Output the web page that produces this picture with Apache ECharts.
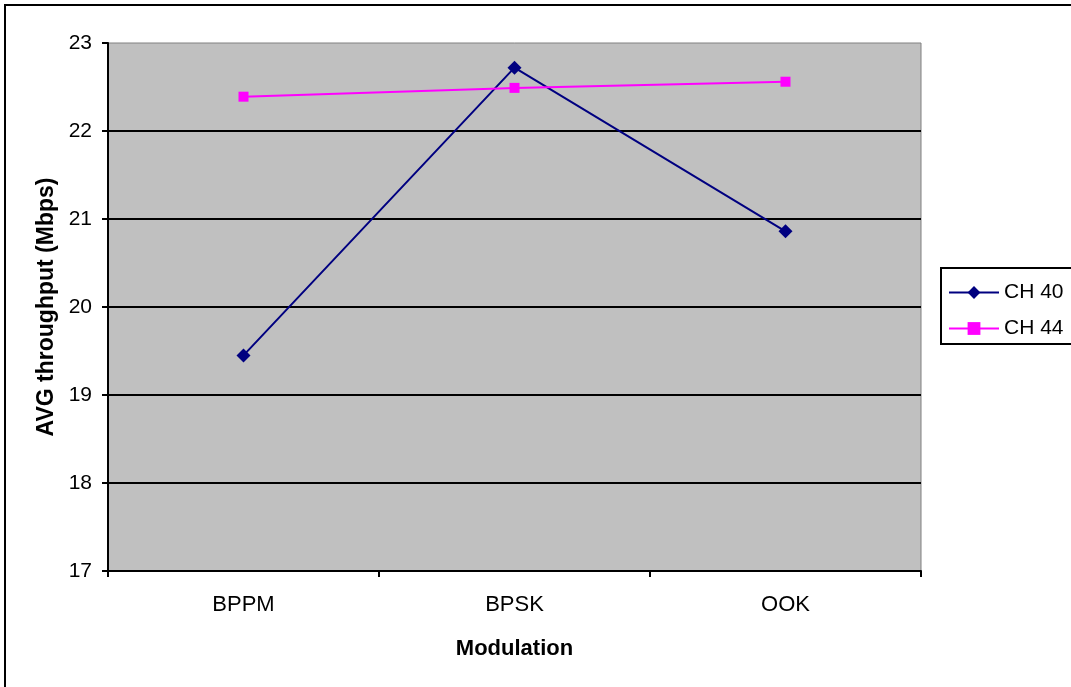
<!DOCTYPE html>
<html><head><meta charset="utf-8">
<script src="https://cdn.jsdelivr.net/npm/echarts@6/dist/echarts.min.js"></script>
<style>html,body{margin:0;padding:0;background:#fff}#c{width:1071px;height:687px}</style>
</head><body><div id="c"></div>
<script>
const categories = ['BPPM', 'BPSK', 'OOK'];
const ch40 = [19.45, 22.72, 20.86];
const ch44 = [22.39, 22.49, 22.56];
const yTicks = [17, 18, 19, 20, 21, 22, 23];

const chart = echarts.init(document.getElementById('c'));
const font = 'Liberation Sans, Arial, sans-serif';
chart.setOption({
  animation: false,
  backgroundColor: '#fff',
  textStyle: { fontFamily: font },
  grid: { left: 108, top: 43, right: 150, bottom: 116, show: true, backgroundColor: '#c0c0c0', borderColor: '#808080', borderWidth: 1 },
  graphic: [
    { type: 'rect', shape: { x: 5, y: 5, width: 1100, height: 700 }, style: { fill: 'none', stroke: '#000', lineWidth: 2 }, z: 0 }
  ],
  legend: {
    orient: 'vertical', left: 941, top: 268,
    padding: [14, 80, 5, 7], itemGap: 15,
    itemWidth: 50, itemHeight: 16,
    borderColor: '#000', borderWidth: 2, backgroundColor: '#fff',
    textStyle: { fontSize: 21, color: '#000', fontFamily: font },
    data: ['CH 40', 'CH 44']
  },
  xAxis: {
    type: 'category', data: categories, boundaryGap: true,
    name: 'Modulation', nameLocation: 'middle', nameGap: 67,
    nameTextStyle: { fontSize: 22, fontWeight: 'bold', color: '#000' },
    axisLine: { lineStyle: { color: '#000', width: 2 } },
    axisTick: { show: true, length: 6, inside: false, lineStyle: { color: '#000', width: 2 } },
    axisLabel: { fontSize: 22, color: '#000', margin: 23 },
    splitLine: { show: false }
  },
  yAxis: {
    type: 'value', min: 17, max: 23, interval: 1,
    name: 'AVG throughput (Mbps)', nameLocation: 'middle', nameGap: 50,
    nameTextStyle: { fontSize: 23, fontWeight: 'bold', color: '#000' },
    axisLine: { show: true, lineStyle: { color: '#000', width: 2 } },
    axisTick: { show: true, length: 6, lineStyle: { color: '#000', width: 2 } },
    axisLabel: { fontSize: 21, color: '#000', margin: 16 },
    splitLine: { show: true, showMaxLine: false, lineStyle: { color: '#000', width: 2 } }
  },
  series: [
    { name: 'CH 40', type: 'line', data: ch40, symbol: 'diamond', symbolSize: 14,
      lineStyle: { color: '#000080', width: 2 }, itemStyle: { color: '#000080' } },
    { name: 'CH 44', type: 'line', data: ch44, symbol: 'rect', symbolSize: 10,
      lineStyle: { color: '#ff00ff', width: 2 }, itemStyle: { color: '#ff00ff' } }
  ]
});
</script></body></html>
